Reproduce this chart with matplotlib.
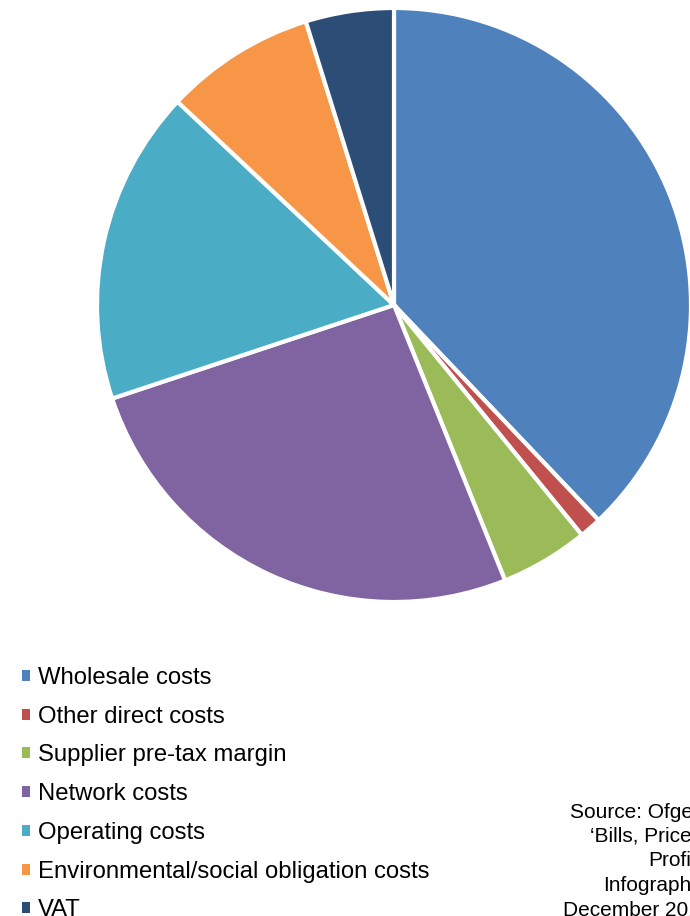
import matplotlib.pyplot as plt
from matplotlib.patches import Patch

plt.rcParams['font.family'] = ['Liberation Sans', 'DejaVu Sans']

# share of a typical dual fuel bill (%)
labels = ["Wholesale costs", "Other direct costs", "Supplier pre-tax margin",
          "Network costs", "Operating costs",
          "Environmental/social obligation costs", "VAT"]
shares = [37.9, 1.2, 4.8, 26.0, 17.1, 8.2, 4.8]
colors = ["#4F81BD", "#C0504D", "#9BBB59", "#8064A2", "#4BACC6",
          "#F79646", "#2C4D75"]

source_lines = ["Source: Ofgem", "\u2018Bills, Prices and", "Profits\u2019",
                "Infographic,", "December 2017"]
source_x = [570, 590, 648, 603, 563]  # left edge of each line in px

fig = plt.figure(figsize=(6.9, 9.16), dpi=100)
ax = fig.add_axes([97 / 690, 1 - 602 / 916, 594 / 690, 594 / 916])
wedges, _ = ax.pie(shares, colors=colors, startangle=90, counterclock=False,
                   radius=1.0,
                   wedgeprops=dict(edgecolor="white", linewidth=3))
ax.set_xlim(-1, 1)
ax.set_ylim(-1, 1)
ax.set_aspect("equal")
ax.axis("off")

# plain square markers for the legend (the wedges carry thick white edges)
handles = [Patch(facecolor=c, edgecolor="none") for c in colors]
fig.legend(handles, labels, loc="upper left",
           bbox_to_anchor=(22 / 690, 1 - 667 / 916),
           frameon=False, fontsize=17.2, handlelength=0.33,
           handleheight=0.33, handletextpad=0.35, labelspacing=0.7,
           borderpad=0, borderaxespad=0)

for i, line in enumerate(source_lines):
    fig.text(source_x[i] / 690, 1 - (812 + i * 24.5) / 916, line,
             fontsize=15, ha="left", va="center")

fig.savefig("out.png", dpi=100)
